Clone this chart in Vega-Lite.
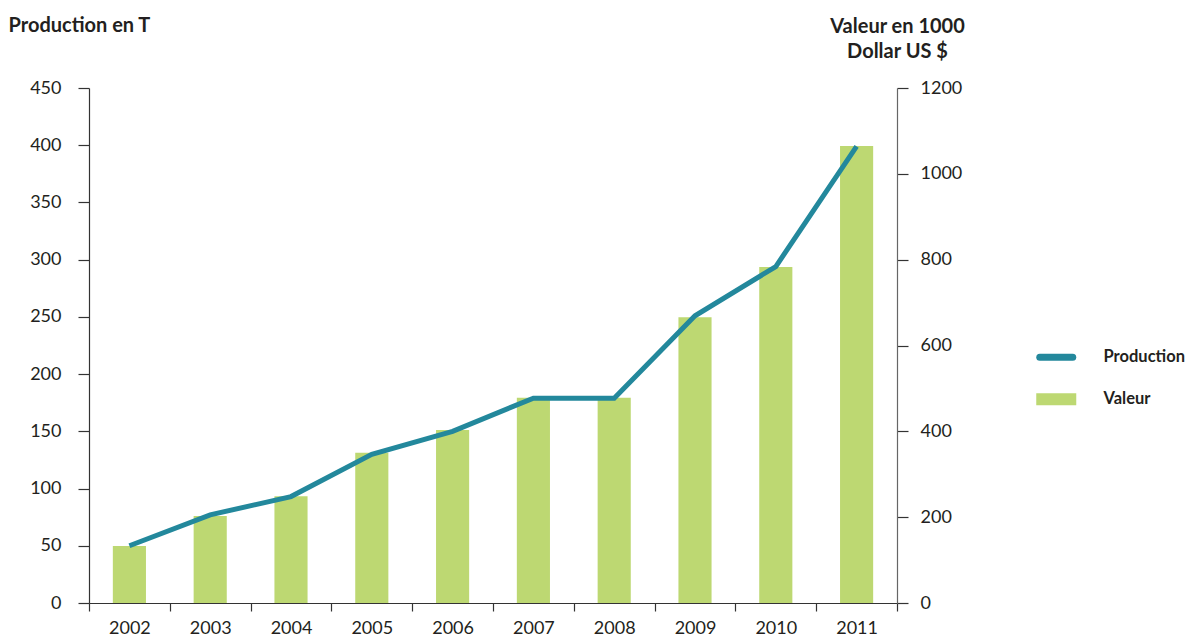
{
  "$schema": "https://vega.github.io/schema/vega-lite/v6.json",
  "width": 808,
  "height": 515,
  "autosize": {"type": "none"},
  "padding": {"left": 89, "top": 88, "right": 290, "bottom": 34},
  "background": "white",
  "config": {
    "view": {"stroke": null},
    "font": "Lato",
    "axis": {"labelColor": "#231f20", "titleColor": "#231f20", "grid": false, "labelFont": "Lato", "titleFont": "Lato"},
    "legend": {"labelColor": "#231f20"}
  },
  "data": {
    "values": [
      {"year": "2002", "production": 50, "valeur": 133},
      {"year": "2003", "production": 77, "valeur": 203},
      {"year": "2004", "production": 93, "valeur": 249},
      {"year": "2005", "production": 130, "valeur": 350},
      {"year": "2006", "production": 150, "valeur": 403},
      {"year": "2007", "production": 179, "valeur": 478},
      {"year": "2008", "production": 179, "valeur": 478},
      {"year": "2009", "production": 251, "valeur": 666},
      {"year": "2010", "production": 294, "valeur": 783},
      {"year": "2011", "production": 399, "valeur": 1065}
    ]
  },
  "encoding": {
    "x": {
      "field": "year",
      "type": "ordinal",
      "scale": {"paddingInner": 0, "paddingOuter": 0},
      "axis": {
        "title": null,
        "labelAngle": 0,
        "tickBand": "extent",
        "tickSize": 8,
        "labelPadding": 8,
        "labelFontSize": 18,
        "domainColor": "#333333",
        "tickColor": "#333333",
        "domainWidth": 1.2,
        "tickWidth": 1.2
      }
    }
  },
  "layer": [
    {
      "mark": {"type": "bar", "width": {"band": 0.41}},
      "encoding": {
        "y": {
          "field": "valeur",
          "type": "quantitative",
          "scale": {"domain": [0, 1200], "nice": false},
          "axis": {
            "orient": "right",
            "values": [0, 200, 400, 600, 800, 1000, 1200],
            "format": "d",
            "tickSize": 11,
            "labelPadding": 12,
            "labelFontSize": 18,
            "domainColor": "#666666",
            "tickColor": "#333333",
            "domainWidth": 1.2,
            "tickWidth": 1.2,
            "title": ["Valeur en 1000", "Dollar US $"],
            "titleAngle": 0,
            "titleX": 0,
            "titleY": -56,
            "titleAlign": "center",
            "titleBaseline": "alphabetic",
            "titleFontSize": 20,
            "titleFontWeight": "bold",
            "titleLineHeight": 25
          }
        },
        "color": {
          "datum": "Valeur",
          "scale": {"domain": ["Production", "Valeur"], "range": ["#23889c", "#bdd872"]},
          "legend": {
            "title": null,
            "orient": "none",
            "legendX": 959,
            "legendY": 261,
            "padding": 0,
            "symbolSize": 1600,
            "labelFontSize": 16.5,
            "labelFontWeight": "bold",
            "labelFont": "Lato",
            "labelOffset": 39,
            "rowPadding": 19,
            "encode": {
              "symbols": {
                "update": {
                  "shape": {"signal": "datum.value === 'Production' ? 'M-1,0H1' : 'M-1,-0.3H1V0.3H-1Z'"},
                  "size": {"signal": "datum.value === 'Production' ? 1089 : 1600"},
                  "strokeWidth": {"signal": "datum.value === 'Production' ? 7 : 0"},
                  "stroke": {"signal": "datum.value === 'Production' ? '#23889c' : 'transparent'"},
                  "fill": {"signal": "datum.value === 'Production' ? 'transparent' : '#bdd872'"},
                  "strokeCap": {"value": "round"},
                  "opacity": {"value": 1}
                }
              }
            }
          }
        }
      }
    },
    {
      "mark": {"type": "line", "strokeWidth": 5},
      "encoding": {
        "y": {
          "field": "production",
          "type": "quantitative",
          "scale": {"domain": [0, 450], "nice": false},
          "axis": {
            "orient": "left",
            "values": [0, 50, 100, 150, 200, 250, 300, 350, 400, 450],
            "tickSize": 11,
            "labelPadding": 17,
            "labelFontSize": 18,
            "domainColor": "#333333",
            "tickColor": "#333333",
            "domainWidth": 1.2,
            "tickWidth": 1.2,
            "title": "Production en T",
            "titleAngle": 0,
            "titleX": -81,
            "titleY": -57,
            "titleAlign": "left",
            "titleBaseline": "alphabetic",
            "titleFontSize": 20,
            "titleFontWeight": "bold"
          }
        },
        "color": {"datum": "Production"}
      }
    }
  ],
  "resolve": {"scale": {"y": "independent"}}
}
